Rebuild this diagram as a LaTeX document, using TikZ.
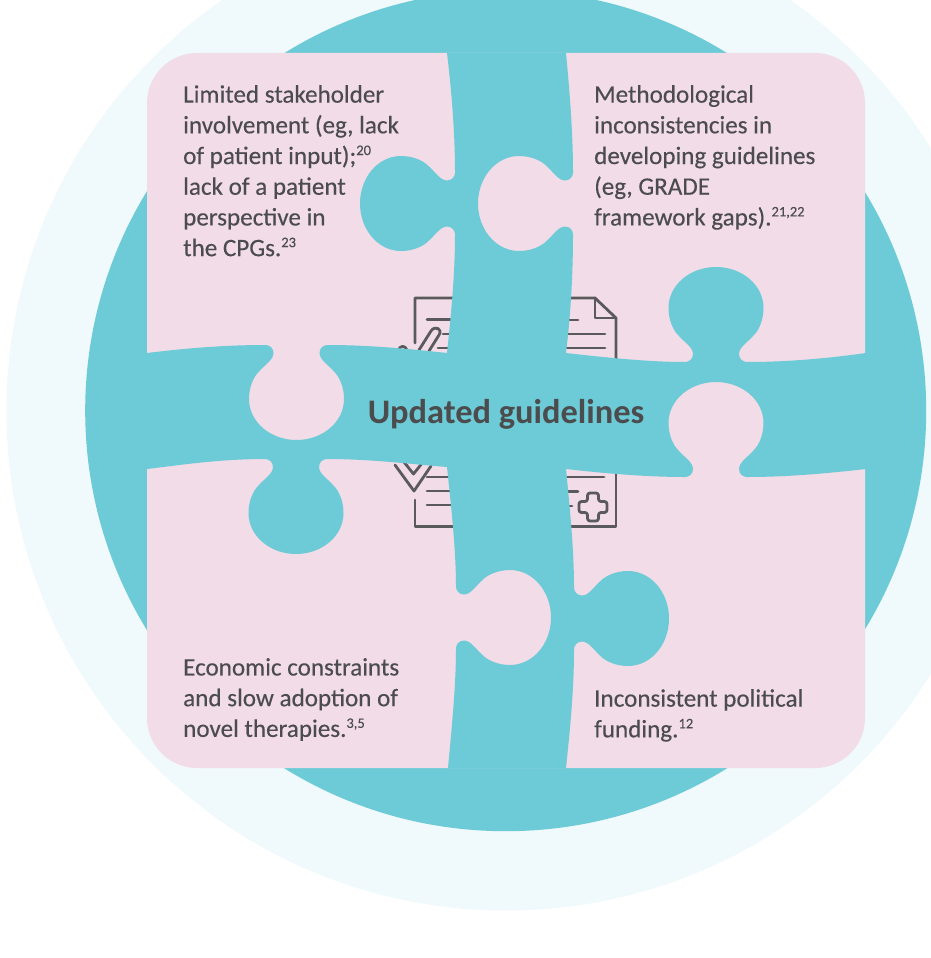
\documentclass[tikz,border=0pt]{standalone}
\usepackage{fontspec}
\setmainfont{Carlito}
\newfontfamily\bodyf{Carlito}[FakeBold=0.25]
\definecolor{lightc}{HTML}{F0F9FC}
\definecolor{teal}{HTML}{6CCBD6}
\definecolor{pinkp}{HTML}{F1DCE7}
\definecolor{ink}{HTML}{4C4C4E}
\definecolor{icong}{HTML}{5A5A5C}
\tikzset{
  px/.style={x=1pt,y=-1pt},
  para/.style={anchor=north west,align=left,inner sep=0pt,text=ink,font=\bodyf\fontsize{25.1}{30.7}\selectfont},
  iconline/.style={draw=icong,line width=2.8pt,line cap=round,line join=round},
}
\newcommand\sups[1]{\textsuperscript{\fontsize{14.5}{14}\selectfont #1}}
\def\K#1#2{({\kx+(#1)*\kux+(#2)*\kvx},{\ky+(#1)*\kuy+(#2)*\kvy})}
\def\knob#1#2#3#4#5#6{%
 \pgfextra{\gdef\kx{#1}\gdef\ky{#2}\gdef\kux{#3}\gdef\kuy{#4}\gdef\kvx{#5}\gdef\kvy{#6}}%
 .. controls \K{-27}{0} and \K{-23}{3} .. \K{-23}{8}
 .. controls \K{-23}{15} and \K{-33}{21} .. \K{-37}{26}
 .. controls \K{-43.5}{32} and \K{-47.5}{43} .. \K{-47.5}{54}
 .. controls \K{-47.5}{77} and \K{-26}{95} .. \K{0}{95}
 .. controls \K{26}{95} and \K{47.5}{77} .. \K{47.5}{54}
 .. controls \K{47.5}{43} and \K{43.5}{32} .. \K{37}{26}
 .. controls \K{33}{21} and \K{23}{15} .. \K{23}{8}
 .. controls \K{23}{3} and \K{27}{0} .. \K{31}{0}}
\begin{document}
\begin{tikzpicture}[px]
\useasboundingbox (0,0) rectangle (931,958);
\fill[white] (0,0) rectangle (931,958);
\begin{scope}
\clip (0,0) rectangle (931,958);
\fill[lightc] (506,411) circle[radius=499.5];
\fill[teal] (505.7,410.7) circle[radius=420.5];
\end{scope}
\fill[pinkp,rounded corners=50pt] (147,53) rectangle (865,768);
% document icons
\draw[iconline] (415,343) -- (415,298) -- (595,298) -- (616,318) -- (616,365);
\draw[iconline] (595,298) -- (595,318) -- (616,318);
\draw[iconline] (427,319.5) -- (452,319.5);
\draw[iconline] (560,320) -- (578,320);
\draw[iconline] (550,334) -- (605,334);
\draw[iconline] (550,348) -- (605,348);
\draw[iconline] (443,334) -- (452,334);
\draw[iconline] (438,348) -- (452,348);
\draw[iconline] (419,350) -- (431,331) .. controls (435,325) and (443,329) .. (439,335) -- (429,351);
\draw[iconline] (398,351) .. controls (400,345) and (405,345) .. (407,350);
\draw[iconline] (395,465) -- (414,491) -- (431,466);
\draw[iconline] (404,462) -- (413.5,474) -- (423,462);
\draw[iconline] (427,477) -- (452,477);
\draw[iconline] (427,491) -- (452,491);
\draw[iconline] (427,505) -- (452,505);
\draw[iconline] (415,500) -- (415,526.5) -- (616,526.5) -- (616,460);
\draw[iconline] (550,477) -- (604,477);
\draw[iconline] (550,491.5) -- (578,491.5);
\draw[iconline] (550,506) -- (572,506);
\draw[iconline,rounded corners=2.5pt] (587.5,493) -- (598.5,493) -- (598.5,501.5) -- (607,501.5) -- (607,512.5) -- (598.5,512.5) -- (598.5,521) -- (587.5,521) -- (587.5,512.5) -- (579,512.5) -- (579,501.5) -- (587.5,501.5) -- cycle;
% puzzle cross
\fill[teal] (447,53) -- (566,53)
 .. controls (570,95) and (573,135) .. (573,172.5)
 \knob{573}{203.5}{0}{1}{-1}{0}
 .. controls (573,280) and (570,320) .. (566,353)
 .. controls (610,358) and (650,362) .. (685,362)
 \knob{716}{362}{1}{0}{0}{-1}
 .. controls (790,362) and (830,358) .. (866,353)
 -- (866,469)
 .. controls (830,473) and (790,477) .. (747,477)
 \knob{716}{477}{-1}{0}{0}{-1}
 .. controls (650,477) and (610,474) .. (566,469)
 .. controls (570,510) and (574,550) .. (574,587.5)
 \knob{574}{618.5}{0}{1}{1}{0}
 .. controls (574,690) and (570,730) .. (566,768)
 -- (448,768)
 .. controls (452,725) and (456,685) .. (456,648.5)
 \knob{456}{617.5}{0}{-1}{1}{0}
 .. controls (456,550) and (451,505) .. (447,467)
 .. controls (410,464) and (370,459) .. (327,459)
 \knob{296}{459}{-1}{0}{0}{1}
 .. controls (220,459) and (180,465) .. (147,469)
 -- (147,353)
 .. controls (180,349) and (220,345) .. (265.5,345)
 \knob{296.5}{345}{1}{0}{0}{1}
 .. controls (370,345) and (410,349) .. (447,353)
 .. controls (451,315) and (455,275) .. (455,234.5)
 \knob{455}{203.5}{0}{-1}{-1}{0}
 .. controls (455,135) and (452,95) .. (447,53) -- cycle;
% texts
\node[para] (t1) at (183,85) {Limited stakeholder\\involvement (eg, lack\\of patient input);\sups{20}\\lack of a patient\\perspective in\\the CPGs.\sups{23}};
\node[para] (t2) at (594,85) {Methodological\\inconsistencies in\\developing guidelines\\(eg, GRADE\\framework gaps).\sups{21,22}};
\node[para] (t3) at (183,658) {Economic constraints\\and slow adoption of\\novel therapies.\sups{3,5}};
\node[para] (t4) at (594,689) {Inconsistent political\\funding.\sups{12}};
\node[text=ink,inner sep=0pt,font=\fontsize{34.4}{40}\selectfont\bfseries] (c) at (506,414.5) {Updated guidelines};
\end{tikzpicture}
\end{document}
